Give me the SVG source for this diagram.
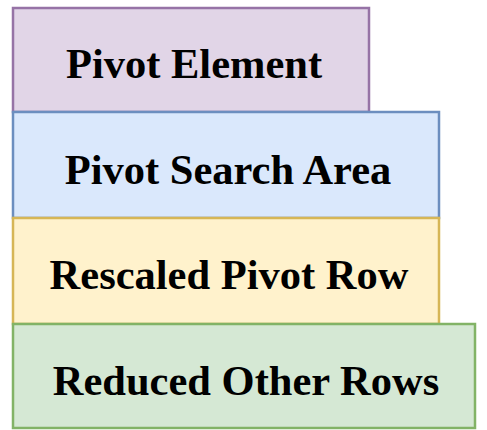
<svg xmlns="http://www.w3.org/2000/svg" width="487" height="430" viewBox="0 0 487 430">
  <style>
    .lbl { font-family: "Liberation Serif", "Times New Roman", serif; font-weight: bold; font-size: 42.5px; fill: #000; text-anchor: middle; }
    rect { stroke-width: 2.5; }
  </style>
  <rect x="0" y="0" width="487" height="430" fill="#ffffff" stroke="none"/>
  <g id="pivot-element">
    <rect x="13" y="8" width="356" height="104" fill="#e1d5e7" stroke="#9673a6"/>
    <text class="lbl" x="194" y="78">Pivot Element</text>
  </g>
  <g id="pivot-search-area">
    <rect x="13" y="112" width="426" height="106" fill="#dae8fc" stroke="#6c8ebf"/>
    <text class="lbl" x="228" y="184">Pivot Search Area</text>
  </g>
  <g id="rescaled-pivot-row">
    <rect x="13" y="218" width="426" height="106" fill="#fff2cc" stroke="#d6b656"/>
    <text class="lbl" x="229" y="289">Rescaled Pivot Row</text>
  </g>
  <g id="reduced-other-rows">
    <rect x="13" y="324" width="462" height="104" fill="#d5e8d4" stroke="#82b366"/>
    <text class="lbl" x="246" y="395">Reduced Other Rows</text>
  </g>
  <g id="connectors"/>
</svg>
